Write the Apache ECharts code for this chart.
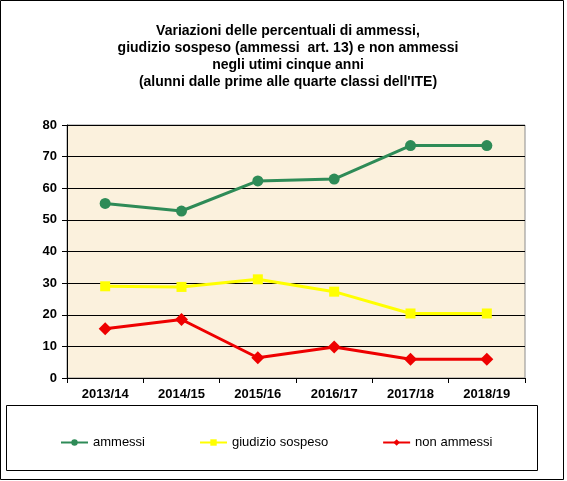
<!DOCTYPE html>
<html>
<head>
<meta charset="utf-8">
<script src="https://cdn.jsdelivr.net/npm/echarts@6/dist/echarts.min.js"></script>
<style>
  html, body { margin: 0; padding: 0; background: #fff; }
  #chart { width: 567px; height: 481px; }
</style>
</head>
<body>
<div id="chart"></div>
<script>
const categories = ['2013/14', '2014/15', '2015/16', '2016/17', '2017/18', '2018/19']
const ammessi = [55.2, 52.8, 62.3, 62.9, 73.5, 73.5]
const giudizioSospeso = [29.0, 28.8, 31.2, 27.3, 20.4, 20.4]
const nonAmmessi = [15.6, 18.5, 6.4, 9.8, 5.9, 5.9]
const yTicks = [0, 10, 20, 30, 40, 50, 60, 70, 80]

const font = 'Liberation Sans, Arial, sans-serif'
const chart = echarts.init(document.getElementById('chart'))

const option = {
  backgroundColor: '#fff',
  title: {
    text: 'Variazioni delle percentuali di ammessi,\ngiudizio sospeso (ammessi  art. 13) e non ammessi\nnegli utimi cinque anni\n(alunni dalle prime alle quarte classi dell\'ITE)',
    left: 283,
    top: 18,
    textAlign: 'center',
    textStyle: { fontFamily: font, fontSize: 14, fontWeight: 'bold', color: '#000', lineHeight: 17 }
  },
  grid: {
    left: 67,
    right: 42,
    top: 125,
    bottom: 103,
    show: true,
    backgroundColor: '#FBF1DD',
    borderColor: '#8c8c8c',
    borderWidth: 1
  },
  legend: {
    left: 55,
    top: 431,
    itemGap: 54,
    itemWidth: 27,
    itemHeight: 8,
    textStyle: { fontFamily: font, fontSize: 13, color: '#000' },
    data: ['ammessi', 'giudizio sospeso', 'non ammessi']
  },
  graphic: [
    { type: 'rect', shape: { x: 0.5, y: 0.5, width: 563, height: 479 }, style: { fill: 'none', stroke: '#000', lineWidth: 1 }, silent: true },
    { type: 'rect', shape: { x: 6.5, y: 405.5, width: 531, height: 65 }, style: { fill: 'none', stroke: '#000', lineWidth: 1 }, silent: true }
  ],
  xAxis: {
    type: 'category',
    data: categories,
    boundaryGap: true,
    axisLine: { lineStyle: { color: '#000', width: 1 } },
    axisTick: { show: true, length: 5, lineStyle: { color: '#000' } },
    axisLabel: { fontFamily: font, fontSize: 13, fontWeight: 'bold', color: '#000', margin: 10 }
  },
  yAxis: {
    type: 'value',
    min: yTicks[0],
    max: yTicks[yTicks.length - 1],
    interval: 10,
    axisLine: { show: true, lineStyle: { color: '#000', width: 1 } },
    axisTick: { show: true, length: 5, lineStyle: { color: '#000' } },
    axisLabel: { fontFamily: font, fontSize: 13, fontWeight: 'bold', color: '#000', margin: 10 },
    splitLine: { show: true, lineStyle: { color: '#000', width: 1 } }
  },
  series: [
    {
      name: 'ammessi',
      type: 'line',
      data: ammessi,
      color: '#2E8B57',
      symbol: 'circle',
      symbolSize: 11,
      lineStyle: { width: 3 },
      emphasis: { disabled: true }
    },
    {
      name: 'giudizio sospeso',
      type: 'line',
      data: giudizioSospeso,
      color: '#FFFF00',
      symbol: 'rect',
      symbolSize: 10,
      lineStyle: { width: 3 },
      emphasis: { disabled: true }
    },
    {
      name: 'non ammessi',
      type: 'line',
      data: nonAmmessi,
      color: '#EE0000',
      symbol: 'diamond',
      symbolSize: 13,
      lineStyle: { width: 3 },
      emphasis: { disabled: true }
    }
  ]
}
chart.setOption(option)
</script>
</body>
</html>
